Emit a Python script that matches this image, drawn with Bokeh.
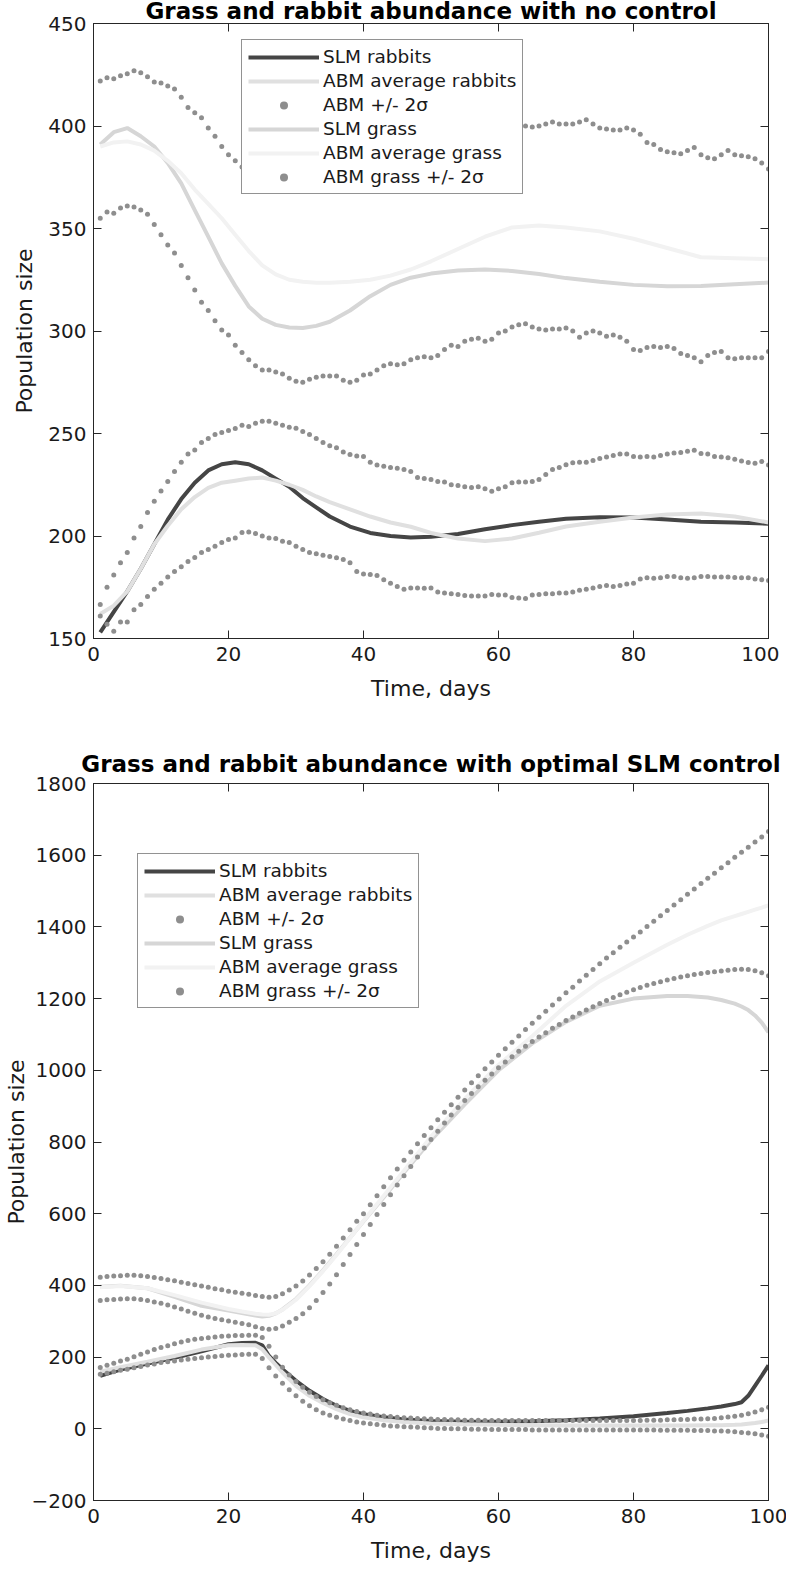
from bokeh.plotting import figure
from bokeh.models import Range1d, FixedTicker, LinearAxis, Legend, LegendItem
from bokeh.layouts import column
from bokeh.embed import file_html
from bokeh.resources import INLINE

# ---------------- data ----------------
days = list(range(1, 101))
x_ticks = [0, 20, 40, 60, 80, 100]

labels = ["SLM rabbits", "ABM average rabbits", "ABM +/- 2\u03c3",
          "SLM grass", "ABM average grass", "ABM grass +/- 2\u03c3"]

# --- top panel: no control ---
top_title = "Grass and rabbit abundance with no control"
top_y_ticks = [150, 200, 250, 300, 350, 400, 450]
top_line_days = [1, 3, 5, 7, 9, 11, 13, 15, 17, 19, 21, 23, 25, 27, 29, 31, 33, 35, 38, 41,
                 44, 47, 50, 54, 58, 62, 66, 70, 75, 80, 85, 90, 95, 100]
top_slm_rabbits = [153, 163, 173, 184, 196, 208, 218, 226, 232, 235, 236, 235, 232, 228, 224,
                   218.5, 214, 209.5, 204.6, 201.5, 200, 199.3, 199.6, 201, 203.3, 205.3, 207,
                   208.4, 209.2, 209, 208, 207, 206.6, 206]
top_abm_rabbits = [162, 166, 173, 184, 196, 205, 213, 219, 223.5, 226, 227, 228, 228.5, 227, 225,
                   222.5, 219.3, 216.5, 213, 209.5, 206.6, 204.5, 201.5, 198.8, 197.5, 198.8,
                   201.6, 204.6, 207, 209, 210.5, 211, 209.5, 206.6]
top_slm_grass = [391, 397, 399, 395, 390, 382, 372, 359, 346, 333, 322, 312, 306, 303, 301.7,
                 301.5, 302.5, 304.5, 310, 317, 322.5, 326, 328, 329.5, 330, 329.3, 327.8, 325.8,
                 324, 322.5, 321.8, 322, 322.8, 323.6]
top_abm_grass = [390, 392, 392.5, 391, 388, 383, 377, 369, 362, 355, 347, 339, 332, 327.6, 325,
                 324, 323.5, 323.5, 324, 325, 327, 330, 334, 340, 346, 350.5, 351.5, 350.5, 348.6,
                 345, 340.5, 336, 335.5, 335]
top_rabbit_upper = [166.6, 175, 181, 187, 192, 199, 204.6, 211.5, 217, 222,
                    226.6, 231.5, 236, 240, 242, 245.6, 247.6, 249.5, 250.5, 251.5,
                    252.4, 254, 253.4, 255, 256, 256, 255, 254, 253, 252.6,
                    251, 249.5, 247.6, 245.6, 244, 243, 241, 239.8, 239, 238.8,
                    236, 234.6, 234, 233.4, 233, 232.4, 231.5, 228.5, 228, 227.6,
                    226.6, 226.4, 225, 224.6, 224, 223.6, 224, 223, 221.8, 223,
                    224, 226, 226.4, 226.4, 226.6, 227.6, 230, 232.4, 233.4, 234.8,
                    235.7, 236, 236, 236.8, 237.8, 238.5, 239.3, 240, 240, 238.8,
                    238.5, 238.8, 238.5, 239.3, 240, 240.5, 240.7, 241.4, 241.8, 240.3,
                    240, 238.8, 238.5, 238.2, 237.4, 236.6, 235.8, 235.5, 236.4, 234.6]
top_rabbit_lower = [161, 157, 153.5, 158, 158, 164, 166.6, 170.5, 174, 177,
                    180, 182.7, 185, 187.6, 189.5, 192, 193.4, 195, 196.8, 198.3,
                    199, 201.7, 202, 201.2, 200, 199, 198.8, 197.5, 196.8, 195,
                    193.4, 192, 191.4, 190.6, 190, 189.4, 188.5, 187, 182.7, 181.5,
                    181.2, 180.7, 178.7, 177, 175.4, 174, 174.6, 174.6, 174.5, 174.6,
                    172.7, 172.2, 171.8, 171.5, 171, 170.7, 170.7, 170.7, 171.5, 171.2,
                    171.2, 170, 169.8, 169.5, 171.2, 171.5, 171.8, 171.8, 172.2, 172.2,
                    172.7, 173.5, 174, 174.6, 175.4, 175.8, 175.4, 175.8, 176.6, 177,
                    179, 179.6, 179.4, 179.6, 180.2, 180.2, 179.6, 179.4, 179.6, 180.2,
                    180.2, 180, 180, 180, 179.8, 179.6, 179.6, 179, 178.7, 178.3]
top_grass_upper = [422, 423.5, 423, 424.5, 425.5, 427, 426, 424, 421.5, 421,
                   419.5, 418, 414, 409, 406.5, 404, 399, 395, 390, 386,
                   383, 380, 378, 376, 375, 373, 372, 372, 371, 372,
                   371, 372, 373, 374, 374, 376, 378, 378, 380, 381,
                   383, 383, 385, 386, 386, 388, 389, 390, 392, 392,
                   393, 394, 395, 396, 396, 397, 398, 398, 399, 399,
                   400, 400, 400, 400, 399.5, 400, 401, 402, 401, 401,
                   401, 402, 403, 401, 399, 398.5, 398, 398, 399, 398,
                   396, 392, 391, 388.5, 387.5, 387, 386.5, 388, 389.5, 386,
                   384.5, 384, 386, 388, 386, 385.5, 385, 384, 382, 379]
top_grass_lower = [355, 358, 357.5, 360, 361, 360.5, 359, 357, 352, 347,
                   342, 338, 332, 326, 320, 314, 310, 305, 300.5, 298,
                   293, 289.5, 286, 283, 281, 281, 280, 279, 277, 275.5,
                   275, 276.5, 277.5, 278, 278, 278, 276, 275, 276, 278.5,
                   279, 281, 283, 284, 283.5, 284, 286, 287, 287.5, 287,
                   288, 291, 293, 292.5, 295, 296, 296.5, 295, 296, 299,
                   300, 302, 303, 303.5, 302, 301, 300.5, 301, 301, 301.5,
                   300, 297, 299, 300, 299, 297.5, 298, 297, 295, 291,
                   290.5, 292, 292.5, 292, 292.5, 291.5, 289, 288, 287, 285,
                   288, 289.5, 290, 287, 286.5, 287, 287, 287, 287, 290]

# --- bottom panel: optimal SLM control ---
bot_title = "Grass and rabbit abundance with optimal SLM control"
bot_y_ticks = [-200, 0, 200, 400, 600, 800, 1000, 1200, 1400, 1600, 1800]
bot_line_days = [1, 4, 8, 12, 16, 20, 22, 24, 25, 26, 27, 28, 30, 32, 34, 36, 38, 40, 43, 46,
                 50, 55, 60, 65, 70, 75, 80, 85, 88, 91, 93, 95, 96, 97, 98, 99, 100]
bot_slm_rabbits = [148, 165, 182, 198, 216, 236, 239, 240, 233, 203, 184, 166, 134, 106, 83,
                   64, 50, 41, 32, 26, 22, 20, 20, 21, 24, 29, 35, 44, 50, 57, 62, 69, 74, 92,
                   120, 148, 177]
bot_abm_rabbits = [159, 172, 187, 203, 221, 233, 234, 233, 222, 199, 178, 157, 120, 92, 72,
                   55, 41, 32, 24, 19, 15, 13, 11, 10, 9, 9, 9, 9, 9, 10, 10, 11, 12, 14, 16,
                   19, 23]
bot_slm_grass = [396, 399, 392, 368, 343, 330, 323, 316, 313, 315, 322, 333, 362, 400, 442,
                 487, 533, 579, 646, 715, 805, 905, 1000, 1075, 1135, 1180, 1200, 1207, 1207,
                 1203, 1196, 1186, 1178, 1168, 1153, 1133, 1106]
bot_abm_grass = [395, 398, 392, 373, 352, 334, 327, 321, 319, 318, 322, 332, 360, 398, 440,
                 485, 532, 580, 650, 720, 815, 920, 1015, 1095, 1180, 1248, 1300, 1350, 1378,
                 1403, 1418, 1430, 1436, 1442, 1448, 1454, 1460]
bot_rabbit_upper = [171, 177, 183, 189, 194, 201, 208, 214, 221, 227,
                    232, 237, 242, 246, 250, 252, 254, 256, 258, 259,
                    260, 260, 261, 261, 255, 230, 200, 172, 150, 132,
                    116, 102, 90, 81, 73, 66, 59, 53, 48, 44,
                    41, 38, 36, 34, 32, 31, 30, 29, 28, 27,
                    26, 26, 25, 25, 24, 24, 24, 23, 23, 23,
                    23, 23, 23, 23, 23, 23, 23, 23, 23, 23,
                    23, 23, 23, 23, 23, 23, 23, 23, 23, 23,
                    23, 24, 24, 24, 25, 25, 26, 26, 27, 27,
                    28, 29, 31, 33, 35, 38, 42, 47, 53, 60]
bot_rabbit_lower = [152, 155, 159, 163, 166, 170, 174, 178, 181, 185,
                    187, 189, 192, 194, 196, 198, 200, 202, 204, 205,
                    206, 207, 208, 208, 196, 170, 147, 127, 109, 92,
                    77, 64, 53, 44, 38, 32, 27, 23, 19, 16,
                    14, 12, 10, 8, 7, 6, 5, 4, 3, 2,
                    1, 1, 0, 0, 0, -1, -1, -1, -2, -2,
                    -2, -2, -2, -2, -3, -3, -3, -3, -3, -3,
                    -3, -3, -3, -3, -3, -3, -3, -3, -3, -3,
                    -3, -3, -3, -4, -4, -4, -4, -4, -5, -5,
                    -5, -6, -6, -7, -8, -10, -12, -14, -17, -21]
bot_grass_upper = [423, 425, 426, 427, 428, 428, 427, 425, 422, 419,
                   416, 413, 409, 405, 402, 398, 395, 391, 388, 384,
                   381, 378, 375, 372, 369, 367, 369, 377, 387, 398,
                   412, 429, 447, 466, 487, 509, 532, 555, 579, 600,
                   625, 650, 675, 700, 725, 749, 772, 795, 818, 840,
                   862, 883, 904, 925, 945, 965, 985, 1004, 1023, 1042,
                   1060, 1078, 1096, 1114, 1131, 1148, 1165, 1182, 1199, 1216,
                   1232, 1249, 1265, 1281, 1297, 1313, 1328, 1343, 1358, 1372,
                   1386, 1401, 1416, 1431, 1446, 1461, 1476, 1491, 1506, 1521,
                   1536, 1550, 1565, 1579, 1594, 1608, 1622, 1637, 1651, 1666]
bot_grass_lower = [358, 360, 361, 362, 363, 363, 361, 358, 354, 350,
                   345, 340, 334, 328, 322, 317, 312, 308, 304, 301,
                   297, 294, 290, 285, 280, 278, 280, 287, 297, 308,
                   321, 338, 358, 380, 404, 430, 458, 486, 514, 542,
                   570, 598, 626, 653, 680, 706, 732, 758, 783, 807,
                   830, 853, 875, 896, 916, 935, 954, 972, 990, 1007,
                   1023, 1038, 1053, 1067, 1080, 1093, 1105, 1117, 1128, 1139,
                   1149, 1159, 1168, 1177, 1186, 1195, 1203, 1211, 1218, 1225,
                   1231, 1237, 1242, 1247, 1252, 1256, 1260, 1264, 1267, 1270,
                   1273, 1275, 1277, 1279, 1281, 1282, 1281, 1278, 1272, 1264]

# ---------------- styling ----------------
FONT = "DejaVu Sans"
AX = "#262626"
C_SLM_R = "#454545"
C_ABM_R = "#e0e0e0"
C_DOT = "#8e8e8e"
C_SLM_G = "#d6d6d6"
C_ABM_G = "#f2f2f2"
LW = 4
DOT = 5


def mirror_axis(ticks):
    return LinearAxis(ticker=FixedTicker(ticks=ticks), major_tick_in=8, major_tick_out=0,
                      minor_tick_line_color=None, axis_line_color=AX,
                      major_tick_line_color=AX, major_label_text_font_size="1px",
                      major_label_text_color=None, major_label_standoff=0)


def make_panel(title, y_range, y_ticks, line_days, slm_r, abm_r, r_up, r_lo,
               slm_g, abm_g, g_up, g_lo, frame_h, mb_top, mb_bottom, title_standoff,
               legend_loc, ylab_standoff):
    p = figure(frame_width=675, frame_height=frame_h,
               x_range=Range1d(0, 100), y_range=Range1d(*y_range),
               output_backend="svg", toolbar_location=None,
               min_border_left=83, min_border_right=20,
               min_border_top=mb_top, min_border_bottom=mb_bottom,
               background_fill_color="white", border_fill_color="white")
    p.title.text = title
    p.title.align = "center"
    p.title.text_font = FONT
    p.title.text_font_size = "23px"
    p.title.text_font_style = "bold"
    p.title.text_color = "black"
    p.title.standoff = title_standoff

    p.xgrid.visible = False
    p.ygrid.visible = False
    p.outline_line_color = AX
    p.outline_line_width = 1

    p.xaxis.ticker = FixedTicker(ticks=x_ticks)
    p.yaxis.ticker = FixedTicker(ticks=y_ticks)
    p.xaxis.axis_label = "Time, days"
    p.yaxis.axis_label = "Population size"
    for ax in p.xaxis + p.yaxis:
        ax.major_tick_in = 8
        ax.major_tick_out = 0
        ax.minor_tick_line_color = None
        ax.axis_line_color = AX
        ax.major_tick_line_color = AX
        ax.major_label_text_font = FONT
        ax.major_label_text_font_size = "20px"
        ax.major_label_text_color = "#1a1a1a"
        ax.major_label_standoff = 7
        ax.axis_label_text_font = FONT
        ax.axis_label_text_font_size = "22px"
        ax.axis_label_text_font_style = "normal"
        ax.axis_label_text_color = "#1a1a1a"
    p.xaxis.major_label_standoff = 8
    p.xaxis.axis_label_standoff = 12
    p.yaxis.axis_label_standoff = ylab_standoff

    # mirrored ticks on top and right (MATLAB box style)
    p.add_layout(mirror_axis(y_ticks), "right")
    p.add_layout(mirror_axis(x_ticks), "above")

    r1 = p.line(line_days, slm_r, line_color=C_SLM_R, line_width=LW)
    r2 = p.line(line_days, abm_r, line_color=C_ABM_R, line_width=LW)
    r3 = p.scatter(days, r_up, size=DOT, fill_color=C_DOT, line_color=None)
    p.scatter(days, r_lo, size=DOT, fill_color=C_DOT, line_color=None)
    r4 = p.line(line_days, slm_g, line_color=C_SLM_G, line_width=LW)
    r5 = p.line(line_days, abm_g, line_color=C_ABM_G, line_width=LW)
    r6 = p.scatter(days, g_up, size=DOT, fill_color=C_DOT, line_color=None)
    p.scatter(days, g_lo, size=DOT, fill_color=C_DOT, line_color=None)

    items = [LegendItem(label=lab, renderers=[r])
             for lab, r in zip(labels, [r1, r2, r3, r4, r5, r6])]
    leg = Legend(items=items, location=legend_loc, orientation="vertical",
                 label_text_font=FONT, label_text_font_size="18.5px",
                 label_text_color="#1a1a1a",
                 glyph_width=71, glyph_height=20, label_height=20,
                 label_standoff=4, spacing=3, padding=6, margin=0,
                 border_line_color=AX, border_line_width=1,
                 background_fill_color="white", background_fill_alpha=1.0)
    p.add_layout(leg)
    return p


p1 = make_panel(top_title, (150, 450), top_y_ticks, top_line_days,
                top_slm_rabbits, top_abm_rabbits, top_rabbit_upper, top_rabbit_lower,
                top_slm_grass, top_abm_grass, top_grass_upper, top_grass_lower,
                frame_h=615, mb_top=21, mb_bottom=99, title_standoff=0,
                legend_loc=(148, 444), ylab_standoff=8)
# pull the first panel up a little so its title sits in the page margin like the original
p1.margin = (-5, 0, 0, 0)
p2 = make_panel(bot_title, (-200, 1800), bot_y_ticks, bot_line_days,
                bot_slm_rabbits, bot_abm_rabbits, bot_rabbit_upper, bot_rabbit_lower,
                bot_slm_grass, bot_abm_grass, bot_grass_upper, bot_grass_lower,
                frame_h=717, mb_top=46, mb_bottom=64, title_standoff=14,
                legend_loc=(44, 492), ylab_standoff=0)
# the lower panel's axis label reaches the page's bottom margin, as in the original
p2.margin = (0, 0, -8, 0)

layout = column(p1, p2, spacing=0)
open("out.html", "w").write(file_html(layout, INLINE))
